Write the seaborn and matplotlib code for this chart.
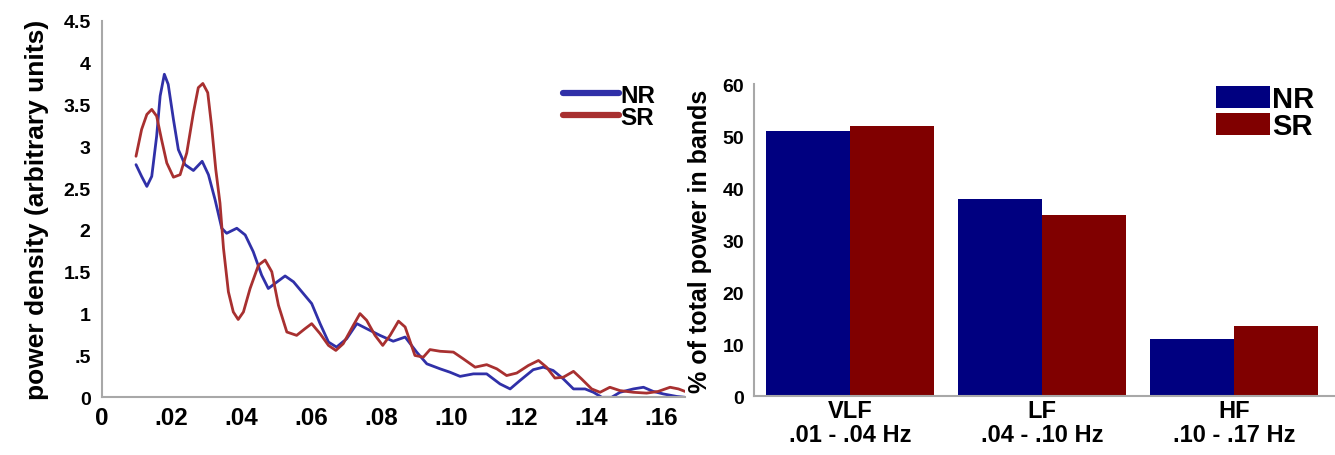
import numpy as np
import pandas as pd
import matplotlib
matplotlib.use("Agg")
import matplotlib.pyplot as plt
import seaborn as sns

# ---------------- data ----------------
nr_freq = [0.0098, 0.0114, 0.0129, 0.0143, 0.0157, 0.0167, 0.0179, 0.019, 0.0205, 0.0219,
           0.0238, 0.0262, 0.0287, 0.0305, 0.0324, 0.0343, 0.0357, 0.0386, 0.041, 0.0433,
           0.0457, 0.0476, 0.0495, 0.0524, 0.0548, 0.0576, 0.06, 0.0624, 0.0648, 0.0671,
           0.07, 0.0729, 0.0757, 0.0795, 0.0833, 0.0867, 0.09, 0.0929, 0.0967, 0.0995,
           0.1024, 0.1062, 0.11, 0.1138, 0.1167, 0.1195, 0.1233, 0.1262, 0.129, 0.1319,
           0.1348, 0.1381, 0.1405, 0.1429, 0.1457, 0.1481, 0.1519, 0.1548, 0.1576, 0.1605,
           0.1643, 0.1667]
nr_power = [2.78, 2.64, 2.52, 2.64, 3.12, 3.60, 3.86, 3.74, 3.32, 2.96,
            2.78, 2.71, 2.82, 2.66, 2.36, 2.02, 1.96, 2.02, 1.94, 1.74,
            1.46, 1.30, 1.36, 1.45, 1.38, 1.24, 1.12, 0.88, 0.66, 0.60,
            0.70, 0.88, 0.82, 0.74, 0.67, 0.72, 0.54, 0.40, 0.34, 0.30,
            0.25, 0.28, 0.28, 0.16, 0.10, 0.20, 0.33, 0.36, 0.32, 0.22,
            0.10, 0.10, 0.06, 0.0, 0.0, 0.06, 0.10, 0.12, 0.07, 0.04,
            0.01, 0.0]
sr_freq = [0.0098, 0.0114, 0.0129, 0.0143, 0.0157, 0.0171, 0.0186, 0.0205, 0.0224, 0.0243,
           0.0262, 0.0276, 0.0289, 0.0303, 0.0314, 0.0326, 0.0338, 0.0348, 0.0362, 0.0376,
           0.039, 0.0405, 0.0424, 0.0448, 0.0467, 0.0486, 0.0505, 0.0529, 0.0557, 0.0581,
           0.06, 0.0624, 0.0648, 0.0669, 0.069, 0.0719, 0.0738, 0.0757, 0.0781, 0.0803,
           0.0824, 0.0848, 0.0867, 0.0895, 0.0919, 0.0938, 0.0967, 0.1005, 0.1033, 0.1067,
           0.11, 0.1129, 0.1157, 0.1186, 0.1219, 0.1248, 0.1271, 0.1295, 0.1319, 0.1348,
           0.1371, 0.14, 0.1424, 0.1452, 0.1481, 0.1519, 0.1557, 0.159, 0.1624, 0.1648,
           0.1667]
sr_power = [2.88, 3.20, 3.38, 3.44, 3.36, 3.08, 2.80, 2.63, 2.66, 2.92,
            3.40, 3.70, 3.75, 3.64, 3.24, 2.72, 2.32, 1.78, 1.26, 1.02,
            0.93, 1.02, 1.30, 1.58, 1.64, 1.50, 1.10, 0.78, 0.74, 0.82,
            0.88, 0.76, 0.62, 0.56, 0.64, 0.86, 1.00, 0.92, 0.74, 0.62,
            0.74, 0.91, 0.84, 0.50, 0.48, 0.57, 0.55, 0.54, 0.46, 0.36,
            0.39, 0.34, 0.26, 0.29, 0.38, 0.44, 0.36, 0.23, 0.24, 0.31,
            0.22, 0.10, 0.06, 0.12, 0.08, 0.06, 0.05, 0.07, 0.12, 0.10,
            0.07]

groups = ["NR", "SR"]
bands = ["VLF\n.01 - .04 Hz", "LF\n.04 - .10 Hz", "HF\n.10 - .17 Hz"]
nr_pct = [51.0, 38.0, 11.0]
sr_pct = [52.0, 34.8, 13.6]

x_ticks = [0, 0.02, 0.04, 0.06, 0.08, 0.10, 0.12, 0.14, 0.16]
x_ticklabels = ["0", ".02", ".04", ".06", ".08", ".10", ".12", ".14", ".16"]
y_ticks = [0, 0.5, 1, 1.5, 2, 2.5, 3, 3.5, 4, 4.5]
y_ticklabels = ["0", ".5", "1", "1.5", "2", "2.5", "3", "3.5", "4", "4.5"]
pct_ticks = [0, 10, 20, 30, 40, 50, 60]

# ---------------- style ----------------
sns.set_style("white")
plt.rcParams["font.family"] = ["Liberation Sans", "DejaVu Sans"]
plt.rcParams["text.color"] = "black"
plt.rcParams["axes.labelcolor"] = "black"
plt.rcParams["xtick.labelcolor"] = "black"
plt.rcParams["ytick.labelcolor"] = "black"
REG = ["Liberation Sans", "DejaVu Sans"]
line_colors = {"NR": "#3030a8", "SR": "#a83030"}
bar_colors = {"NR": "#000080", "SR": "#800000"}
spine_col = "#a8a8a8"

W, H = 1335, 456
fig = plt.figure(figsize=(W / 100, H / 100), dpi=100)

def fr(x0, y0, x1, y1):
    return [x0 / W, 1 - y1 / H, (x1 - x0) / W, (y1 - y0) / H]

ax1 = fig.add_axes(fr(101.7, 21.7, 685, 398.3))
ax2 = fig.add_axes(fr(754, 85, 1335, 397.3))

# ---------------- left: spectra ----------------
spec = pd.concat([
    pd.DataFrame({"freq": nr_freq, "power": nr_power, "group": "NR"}),
    pd.DataFrame({"freq": sr_freq, "power": sr_power, "group": "SR"}),
])
sns.lineplot(data=spec, x="freq", y="power", hue="group", hue_order=groups,
             palette=line_colors, estimator=None, sort=True, linewidth=2.0,
             ax=ax1, legend=True)
ax1.set_xlim(0, 1 / 6)
ax1.set_ylim(0, 4.5)
ax1.set_xticks(x_ticks)
ax1.set_xticklabels(x_ticklabels)
ax1.set_yticks(y_ticks)
ax1.set_yticklabels(y_ticklabels)
ax1.set_xlabel("")
ax1.set_ylabel("power density (arbitrary units)", fontsize=19, fontweight="bold",
               family=REG, labelpad=10)
ax1.tick_params(axis="x", length=3, direction="in", color=spine_col, pad=6)
ax1.tick_params(axis="y", length=3, direction="out", color=spine_col, pad=5)
for t in ax1.get_xticklabels():
    t.set_fontweight("bold"); t.set_fontsize(17.5)
for t in ax1.get_yticklabels():
    t.set_fontweight("bold"); t.set_fontsize(14)
for s in ["top", "right"]:
    ax1.spines[s].set_visible(False)
for s in ["left", "bottom"]:
    ax1.spines[s].set_color(spine_col)
    ax1.spines[s].set_linewidth(1.5)

h1, l1 = ax1.get_legend_handles_labels()
ax1.legend_.remove()
for h in h1:
    h.set_linewidth(4.5)
fig.legend(h1, l1, loc="upper left", bbox_to_anchor=(563 / W, 1 - 85 / H),
           bbox_transform=fig.transFigure, frameon=False, borderpad=0,
           borderaxespad=0, handlelength=2.3, handletextpad=0.05,
           labelspacing=-0.05, prop=dict(weight="bold", size=17.5))

# ---------------- right: bars ----------------
bars = pd.DataFrame({
    "band": bands * 2,
    "pct": nr_pct + sr_pct,
    "group": ["NR"] * 3 + ["SR"] * 3,
})
sns.barplot(data=bars, x="band", y="pct", hue="group", hue_order=groups,
            order=bands, palette=bar_colors, saturation=1, width=0.87,
            linewidth=0, ax=ax2)
ax2.set_xlim(-0.5, 2.526)
ax2.set_ylim(0, 60)
ax2.set_yticks(pct_ticks)
ax2.set_xlabel("")
ax2.set_ylabel("% of total power in bands", fontsize=18, fontweight="bold",
               family=REG, labelpad=8)
ax2.tick_params(axis="x", which="major", length=0, pad=2)
ax2.set_xticks([0.5, 1.5], minor=True)
ax2.tick_params(axis="x", which="minor", length=3, direction="in", color=spine_col)
ax2.tick_params(axis="y", length=3, direction="out", color=spine_col, pad=4)
for t in ax2.get_xticklabels():
    t.set_fontweight("bold"); t.set_fontsize(17)
    t.set_multialignment("center"); t.set_linespacing(1.05)
for t in ax2.get_yticklabels():
    t.set_fontweight("bold"); t.set_fontsize(14)
for s in ["top", "right"]:
    ax2.spines[s].set_visible(False)
for s in ["left", "bottom"]:
    ax2.spines[s].set_color(spine_col)
    ax2.spines[s].set_linewidth(1.5)

h2, l2 = ax2.get_legend_handles_labels()
ax2.legend_.remove()
fig.legend(h2, l2, loc="upper left", bbox_to_anchor=(1216 / W, 1 - 86 / H),
           bbox_transform=fig.transFigure, frameon=False, borderpad=0,
           borderaxespad=0, handlelength=1.86, handleheight=0.78,
           handletextpad=0.05, labelspacing=-0.02,
           prop=dict(weight="bold", size=21))

fig.savefig("out.png", dpi=100)
